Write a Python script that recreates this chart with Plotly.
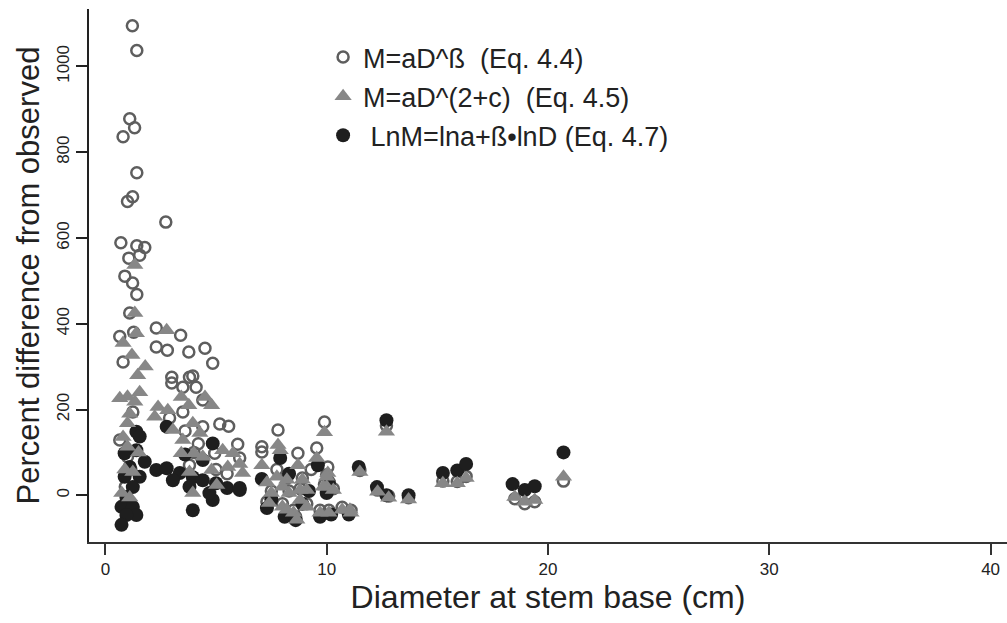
import plotly.graph_objects as go

# Eq. 4.4  M=aD^ß  (open circles)
x_eq44 = [1.22, 1.42, 1.1, 1.32, 0.8, 1.42, 1.23, 1.0, 0.7, 1.42, 1.78, 1.55, 1.06, 0.88, 1.23, 1.42,
          1.1, 1.28, 0.65, 0.8, 1.24, 0.65, 1.0, 1.15, 0.9,
          2.73, 2.3, 3.4, 2.3, 2.8, 3.77, 4.5, 4.85, 3.0, 3.8, 3.95, 3.0, 3.5, 4.1, 4.4, 5.17, 5.57, 4.4,
          3.5, 5.98, 4.94, 6.07, 3.6, 4.2, 4.0, 2.9, 5.0, 5.5, 3.8,
          7.8, 9.9, 7.07, 7.07, 8.7, 9.55, 10.05, 7.3, 7.5, 8.0, 8.5, 9.1, 9.7, 10.1, 10.7, 11.1, 8.3, 8.8,
          9.9, 10.3, 8.2, 8.9, 10.0, 7.75, 8.6, 9.3,
          11.5, 12.3, 12.8, 13.7, 12.7, 15.25, 15.9, 16.3, 18.5, 18.95, 19.4, 20.7]
y_eq44 = [1095, 1037, 878, 857, 836, 752, 696, 685, 589, 582, 578, 560, 553, 511, 495, 468,
          425, 380, 370, 311, 194, 129, 90, 60, 20,
          637, 390, 373, 346, 338, 334, 343, 308, 275, 275, 278, 262, 252, 252, 222, 166, 161, 160,
          194, 119, 98, 87, 150, 120, 100, 180, 60, 50, 70,
          152, 171, 113, 101, 98, 110, 66, -15, 10, -20, -35, -20, -35, -35, -28, -35, 10, 15,
          25, 15, 40, 40, 48, 60, -50, 60,
          58, 12, -2, -6, 162, 33, 32, 44, -8, -20, -15, 33]

# Eq. 4.5  M=aD^(2+c)  (grey triangles)
x_eq45 = [1.33, 1.33, 1.4, 0.8, 1.2, 1.8, 1.46, 1.0, 0.65, 1.33, 1.0, 0.8, 1.0, 0.88, 1.24, 0.74,
          1.55, 1.1, 1.5, 1.1,
          2.77, 2.38, 2.82, 2.23, 3.43, 3.77, 4.5, 4.8, 3.95, 3.05, 3.5, 4.27, 3.43, 4.0, 5.3, 5.53,
          6.07, 4.8, 3.8, 5.03, 3.95, 4.4, 5.77,
          6.2, 7.07, 7.8, 9.9, 8.7, 9.55, 7.75, 8.0, 7.5, 7.4, 8.0, 8.5, 8.8, 8.3, 9.1, 10.05, 10.0,
          9.7, 11.05, 11.5, 7.9, 10.0, 9.85, 10.3, 10.7, 11.1, 10.1, 9.1, 8.65, 8.2, 8.8, 8.2, 8.9, 7.3,
          12.7, 12.3, 12.8, 13.7, 15.25, 15.9, 16.3, 18.5, 18.95, 19.4, 20.7]
y_eq45 = [537, 425, 378, 355, 327, 300, 280, 230, 226, 218, 168, 136, 113, 60, 54, 5,
          240, 190, 100, -5,
          385, 206, 198, 183, 229, 210, 229, 210, 168, 152, 129, 145, 98, 98, 105, 66,
          73, 59, 54, 24, 5, 90, 98,
          52, 70, 117, 147, 70, 87, 43, 20, 5, -18, -27, -41, -11, 5, 12, 52, 20,
          -41, -34, 54, 105, 43, 20, 12, -34, -41, -41, -27, -57, -34, 12, 36, 36, 30,
          148, 8, -6, -10, 28, 28, 40, -4, -15, -11, 43]

# Eq. 4.7  LnM=lna+ß•lnD  (black dots)
x_eq47 = [1.4, 1.55, 1.78, 1.4, 0.87, 1.1, 0.87, 1.55, 1.24, 0.95, 0.73, 1.24, 1.4, 0.95, 0.73,
          2.3, 2.77, 3.36, 3.05, 3.95, 4.4, 5.0, 5.5, 6.07, 3.95, 4.85, 2.77, 4.85, 4.4, 3.8, 4.7, 3.6,
          7.9, 6.07, 7.07, 8.1, 8.6, 9.7, 10.2, 11.0, 7.5, 8.9, 9.2, 10.1, 8.3, 9.6, 10.0, 7.3,
          11.45, 12.7, 12.27, 12.7, 13.7, 15.25, 15.9, 16.3, 18.4, 18.95, 19.4, 20.7]
y_eq47 = [148, 137, 78, 105, 98, 66, 43, 43, 19, -4, -27, -27, -46, -46, -69,
          59, 63, 52, 35, 42, 35, 28, 17, 12, -35, -11, 160, 121, 82, 20, 5, 95,
          87, 17, 38, -50, -58, -50, -45, -45, -10, -20, 10, 30, 50, 70, 5, -30,
          66, 175, 19, 0, 0, 52, 58, 73, 26, 12, 21, 100]

x_ticks = [0, 10, 20, 30, 40]
y_ticks = [0, 200, 400, 600, 800, 1000]

FONT = "Liberation Sans, Arial, sans-serif"

fig = go.Figure()
fig.add_trace(go.Scatter(
    x=x_eq44, y=y_eq44, mode="markers", name="M=aD^ß  (Eq. 4.4)",
    legendrank=1, legendgroup="a",
    marker=dict(symbol="circle-open", size=11, color="#5e5e5e", line=dict(width=2.5, color="#5e5e5e")),
))
fig.add_trace(go.Scatter(
    x=x_eq47, y=y_eq47, mode="markers", name=" LnM=lna+ß•lnD (Eq. 4.7)",
    legendrank=3, legendgroup="c",
    marker=dict(symbol="circle", size=14, color="#1e1e1e", line=dict(width=0)),
))
fig.add_trace(go.Scatter(
    x=x_eq45, y=y_eq45, mode="markers", name="M=aD^(2+c)  (Eq. 4.5)",
    legendrank=2, legendgroup="b",
    marker=dict(symbol="triangle-up", size=15, color="#878787", line=dict(width=0)),
))

fig.update_layout(
    width=1007, height=623,
    margin=dict(l=89, r=0, t=9, b=81),
    paper_bgcolor="white", plot_bgcolor="white",
    font=dict(family=FONT, color="#222222"),
    showlegend=True,
    legend=dict(x=0.255, y=0.955, xanchor="left", yanchor="top",
                font=dict(size=27, family=FONT, color="#222222"),
                bgcolor="rgba(0,0,0,0)", tracegroupgap=1, itemsizing="trace"),
    xaxis=dict(range=[-0.74, 40.74], tickvals=x_ticks, ticktext=[str(v) for v in x_ticks],
               showgrid=False, zeroline=False, showline=True, linecolor="#333333", linewidth=1.5,
               ticks="outside", ticklen=11, tickwidth=1.5, tickcolor="#333333",
               tickfont=dict(size=17, family=FONT, color="#222222"),
               title=dict(text="Diameter at stem base (cm)", font=dict(size=32, family=FONT, color="#222222"), standoff=4)),
    yaxis=dict(range=[-109, 1134], tickvals=y_ticks, ticktext=[str(v) for v in y_ticks],
               showgrid=False, zeroline=False, showline=True, linecolor="#222222", linewidth=1.5,
               ticks="outside", ticklen=11, tickwidth=1.5, tickcolor="#222222", tickangle=-90,
               tickfont=dict(size=17, family=FONT, color="#222222"),
               title=dict(text="Percent difference from observed", font=dict(size=31, family=FONT, color="#222222"), standoff=6)),
)

fig.write_html("out.html")
